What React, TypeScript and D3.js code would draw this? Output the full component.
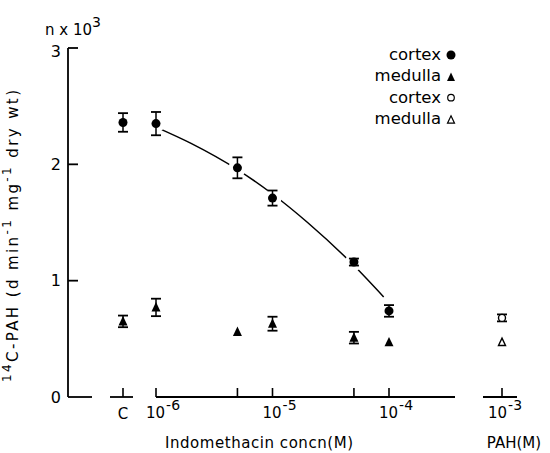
import React, { useEffect, useRef } from "react";
import * as d3 from "d3";

// indomethacin concentrations (M)
const concs = [1e-6, 5e-6, 1e-5, 5e-5, 1e-4];
const cortexMeans = [2.35, 1.97, 1.71, 1.16, 0.74];
const cortexErrs = [0.1, 0.09, 0.065, 0.03, 0.05];
const medullaMeans = [0.77, 0.56, 0.63, 0.51, 0.47];
const medullaErrs = [0.075, 0, 0.06, 0.05, 0];

// control (C) and PAH 10^-3 M: [cortex, medulla]
const controlMeans = [2.36, 0.65];
const controlErrs = [0.08, 0.05];
const pahMeans = [0.68, 0.47];
const pahErrs = [0.03, 0];

// hand drawn fit through the cortex points
const curveConcs = [1e-6, 2e-6, 5e-6, 1e-5, 2e-5, 5e-5, 9e-5];
const curveValues = [2.32, 2.18, 1.955, 1.745, 1.5, 1.13, 0.86];

const yTicks = [0, 1, 2, 3];
const majorTicks = [1e-6, 1e-5, 1e-4];
const minorTicks = [5e-6, 5e-5];
const legendLabels = ["cortex", "medulla", "cortex", "medulla"];

const FONT = "'DejaVu Sans', sans-serif";

export default function App() {
  const ref = useRef<SVGSVGElement>(null);

  useEffect(() => {
    document.body.style.margin = "0";
    const svg = d3.select(ref.current);
    svg.selectAll("*").remove();

    const y = d3.scaleLinear().domain([0, 3]).range([397, 48]);
    const x = d3.scaleLog().domain([1e-6, 1e-4]).range([156, 389]);
    const xCat = d3.scaleOrdinal<string, number>().domain(["C", "PAH"]).range([123, 502]);
    const x0 = 68;
    const y0 = y(0);

    const g = svg.append("g").style("font-family", FONT).attr("fill", "#000");

    // y axis
    g.append("line").attr("x1", x0).attr("x2", x0).attr("y1", y(3)).attr("y2", y0)
      .attr("stroke", "#000").attr("stroke-width", 1.8);
    yTicks.filter(d => d > 0).forEach(t => {
      g.append("line").attr("x1", x0).attr("x2", x0 + 10).attr("y1", y(t)).attr("y2", y(t))
        .attr("stroke", "#000").attr("stroke-width", 1.8);
    });
    yTicks.forEach(t => {
      g.append("text").attr("x", x0 - 7).attr("y", y(t) + (t === 3 ? 3 : 0)).attr("dy", "0.36em")
        .attr("text-anchor", "end").style("font-size", "16px").text(t);
    });
    const nx = g.append("text").attr("x", 45).attr("y", 35).style("font-size", "15px");
    nx.append("tspan").text("n x 10");
    nx.append("tspan").attr("dy", -8).style("font-size", "14px").text("3");

    // broken x axis
    const segs: [number, number][] = [
      [x0, 92], [xCat("C") - 13, xCat("C") + 10], [x(1e-6), 455], [xCat("PAH") - 19, xCat("PAH") + 15],
    ];
    segs.forEach(([a, b]) => {
      g.append("line").attr("x1", a).attr("x2", b).attr("y1", y0).attr("y2", y0)
        .attr("stroke", "#000").attr("stroke-width", 1.8);
    });
    const tickXs = [xCat("C"), ...majorTicks.map(d => x(d)), ...minorTicks.map(d => x(d)), xCat("PAH")];
    tickXs.forEach(tx => {
      g.append("line").attr("x1", tx).attr("x2", tx).attr("y1", y0).attr("y2", y0 - 9)
        .attr("stroke", "#000").attr("stroke-width", 1.6);
    });
    g.append("text").attr("x", xCat("C")).attr("y", 419).attr("text-anchor", "middle")
      .style("font-size", "15px").text("C");
    const powLabel = (px: number, exp: number) => {
      const t = g.append("text").attr("x", px - 10).attr("y", 418).style("font-size", "15px");
      t.append("tspan").text("10");
      t.append("tspan").attr("dy", -8).attr("dx", 1).style("font-size", "14px").text("-" + exp);
    };
    majorTicks.forEach(d => powLabel(x(d), -Math.round(Math.log10(d))));
    powLabel(xCat("PAH") - 4, 3);

    g.append("text").attr("x", 259).attr("y", 448).attr("text-anchor", "middle")
      .attr("textLength", 188).attr("lengthAdjust", "spacing")
      .style("font-size", "15px").text("Indomethacin  concn(M)");
    g.append("text").attr("x", 514).attr("y", 448).attr("text-anchor", "middle")
      .style("font-size", "15px").text("PAH(M)");

    // y title
    const yt = g.append("text").attr("transform", "translate(18,236) rotate(-90)")
      .attr("text-anchor", "middle").attr("textLength", 292).attr("lengthAdjust", "spacing")
      .style("font-size", "15px");
    yt.append("tspan").attr("dy", -7).style("font-size", "12px").text("14");
    yt.append("tspan").attr("dy", 7).text("C-PAH (d min");
    yt.append("tspan").attr("dy", -7).style("font-size", "12px").text("-1");
    yt.append("tspan").attr("dy", 7).text(" mg");
    yt.append("tspan").attr("dy", -7).style("font-size", "12px").text("-1");
    yt.append("tspan").attr("dy", 7).text(" dry wt)");

    // fitted curve
    const line = d3.line<number>()
      .x((_, i) => x(curveConcs[i]))
      .y(d => y(d))
      .curve(d3.curveMonotoneX);
    g.append("path").attr("d", line(curveValues)).attr("fill", "none")
      .attr("stroke", "#000").attr("stroke-width", 1.5);

    const tri = (cx: number, cy: number, s: number) =>
      `M${cx},${cy - s * 0.6}L${cx + s / 2},${cy + s * 0.45}L${cx - s / 2},${cy + s * 0.45}Z`;

    type Pt = { px: number; v: number; e: number };
    const cortexPts: Pt[] = [
      { px: xCat("C"), v: controlMeans[0], e: controlErrs[0] },
      ...concs.map((c, i) => ({ px: x(c), v: cortexMeans[i], e: cortexErrs[i] })),
    ];
    const medullaPts: Pt[] = [
      { px: xCat("C"), v: controlMeans[1], e: controlErrs[1] },
      ...concs.map((c, i) => ({ px: x(c), v: medullaMeans[i], e: medullaErrs[i] })),
    ];

    // white gaps where the curve meets the markers
    cortexPts.forEach(p => {
      g.append("circle").attr("cx", p.px).attr("cy", y(p.v)).attr("r", 9).attr("fill", "#fff");
    });

    const errBar = (p: Pt) => {
      if (!p.e) return;
      const a = y(p.v + p.e), b = y(p.v - p.e);
      g.append("line").attr("x1", p.px).attr("x2", p.px).attr("y1", a).attr("y2", b)
        .attr("stroke", "#000").attr("stroke-width", 1.5);
      [a, b].forEach(yy => {
        g.append("line").attr("x1", p.px - 5).attr("x2", p.px + 5).attr("y1", yy).attr("y2", yy)
          .attr("stroke", "#000").attr("stroke-width", 1.8);
      });
    };
    [...cortexPts, ...medullaPts].forEach(errBar);

    cortexPts.forEach(p => {
      g.append("circle").attr("cx", p.px).attr("cy", y(p.v)).attr("r", 4.5).attr("fill", "#000");
    });
    medullaPts.forEach(p => {
      g.append("path").attr("d", tri(p.px, y(p.v), 9)).attr("fill", "#000");
    });

    // PAH 10^-3 M (open symbols)
    const pahX = xCat("PAH");
    errBar({ px: pahX, v: pahMeans[0], e: pahErrs[0] });
    g.append("circle").attr("cx", pahX).attr("cy", y(pahMeans[0])).attr("r", 3.5)
      .attr("fill", "#fff").attr("stroke", "#000").attr("stroke-width", 1.4);
    g.append("path").attr("d", tri(pahX, y(pahMeans[1]), 7)).attr("fill", "#fff")
      .attr("stroke", "#000").attr("stroke-width", 1.4);

    // legend
    const ly = d3.scalePoint<number>().domain(d3.range(legendLabels.length)).range([55, 119]);
    legendLabels.forEach((lab, i) => {
      const yy = ly(i) as number;
      g.append("text").attr("x", 441).attr("y", yy).attr("dy", "0.3em").attr("text-anchor", "end")
        .style("font-size", "16.5px").text(lab);
      const mx = 451;
      if (i === 0) g.append("circle").attr("cx", mx).attr("cy", yy).attr("r", 4.5).attr("fill", "#000");
      if (i === 1) g.append("path").attr("d", tri(mx, yy + 1, 8)).attr("fill", "#000");
      if (i === 2) g.append("circle").attr("cx", mx).attr("cy", yy).attr("r", 3.3)
        .attr("fill", "#fff").attr("stroke", "#000").attr("stroke-width", 1.2);
      if (i === 3) g.append("path").attr("d", tri(mx, yy + 1, 7)).attr("fill", "#fff")
        .attr("stroke", "#000").attr("stroke-width", 1.2);
    });
  }, []);

  return <svg ref={ref} width={550} height={453} style={{ display: "block", background: "#fff" }} />;
}
